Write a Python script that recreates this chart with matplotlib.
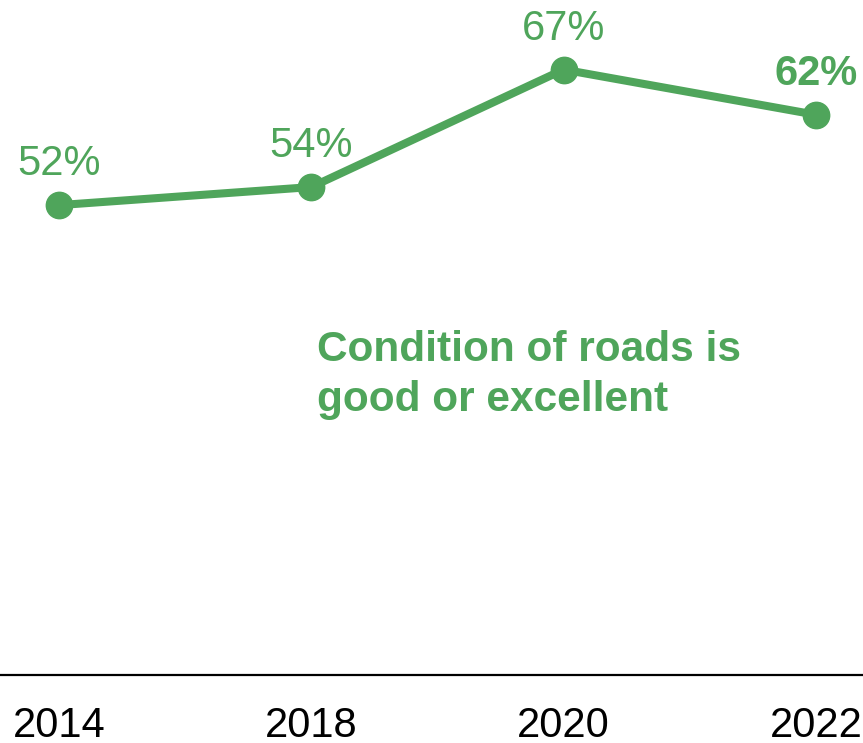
import matplotlib
matplotlib.use("Agg")
import matplotlib.pyplot as plt

years = ["2014", "2018", "2020", "2022"]
values = [52, 54, 67, 62]
series_label = "Condition of roads is\ngood or excellent"

green = "#4fa55b"

plt.rcParams['font.family'] = ['Liberation Sans', 'DejaVu Sans']

fig = plt.figure(figsize=(8.63, 7.43), dpi=100)
ax = fig.add_axes([0, (743 - 675) / 743, 1, 675 / 743])

x = list(range(len(years)))
ax.plot(x, values, color=green, lw=5.8, marker='o', markersize=19, solid_capstyle='round', zorder=3, clip_on=False)

for i, v in enumerate(values):
    bold = (i == len(values) - 1)
    ax.annotate(f"{v}%", (i, v), xytext=(0, 21.5), textcoords='offset points',
                ha='center', va='baseline', fontsize=30, color=green,
                fontweight='bold' if bold else 'normal')

ax.text(1.022, 38.2, series_label, ha='left', va='top', fontsize=30.5,
        fontweight='bold', color=green, linespacing=1.34)

step = 252.3
ax.set_xlim(-59 / step, -59 / step + 863 / step)
ax.set_ylim(0, 74.7)
ax.set_xticks(x)
ax.set_xticklabels(years, fontsize=30)
ax.tick_params(axis='x', length=0, pad=22)
ax.set_yticks([])
for s in ['top', 'left', 'right']:
    ax.spines[s].set_visible(False)
ax.spines['bottom'].set_linewidth(1.6)
ax.spines['bottom'].set_color('black')
ax.patch.set_alpha(0)

fig.savefig("out.png", dpi=100)
